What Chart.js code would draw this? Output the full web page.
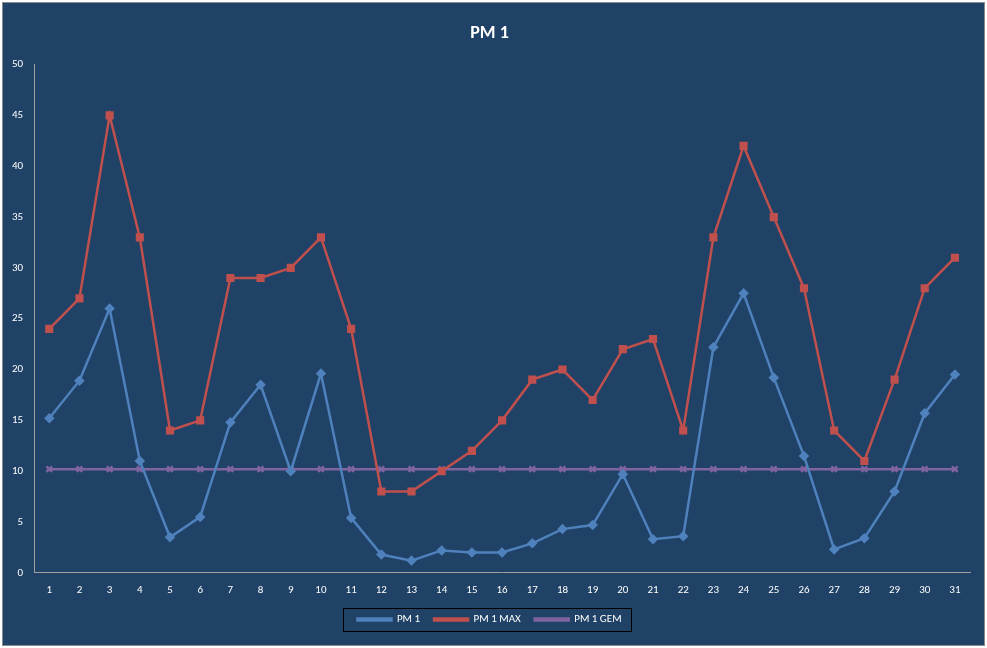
<!DOCTYPE html>
<html>
<head>
<meta charset="utf-8">
<script src="https://cdn.jsdelivr.net/npm/chart.js@4"></script>
<style>
  html, body { margin: 0; padding: 0; background: #ffffff; }
  #wrap { position: absolute; left: 2px; top: 2px; width: 981px; height: 642px; border: 1px solid #8a8a8a; background: #1f4266; }
</style>
</head>
<body>
<div id="wrap"><canvas id="chart"></canvas></div>
<script>
const days = ['1','2','3','4','5','6','7','8','9','10','11','12','13','14','15','16','17','18','19','20','21','22','23','24','25','26','27','28','29','30','31'];
const pm1 = [15.2, 18.9, 26, 11, 3.5, 5.5, 14.8, 18.5, 10, 19.6, 5.4, 1.8, 1.2, 2.2, 2, 2, 2.9, 4.3, 4.7, 9.7, 3.3, 3.6, 22.2, 27.5, 19.2, 11.5, 2.3, 3.4, 8, 15.7, 19.5];
const pm1Max = [24, 27, 45, 33, 14, 15, 29, 29, 30, 33, 24, 8, 8, 10, 12, 15, 19, 20, 17, 22, 23, 14, 33, 42, 35, 28, 14, 11, 19, 28, 31];
const pm1Gem = [10.2, 10.2, 10.2, 10.2, 10.2, 10.2, 10.2, 10.2, 10.2, 10.2, 10.2, 10.2, 10.2, 10.2, 10.2, 10.2, 10.2, 10.2, 10.2, 10.2, 10.2, 10.2, 10.2, 10.2, 10.2, 10.2, 10.2, 10.2, 10.2, 10.2, 10.2];

// draws the black box around the legend items only
const legendBox = {
    id: 'legendBox',
    afterDraw(chart) {
        const boxes = chart.legend.legendHitBoxes;
        if (!boxes || !boxes.length) return;
        const left = Math.min(...boxes.map(b => b.left)) - 14;
        const right = Math.max(...boxes.map(b => b.left + b.width)) + 10;
        const top = Math.min(...boxes.map(b => b.top)) - 6;
        const bottom = Math.max(...boxes.map(b => b.top + b.height)) + 6;
        const ctx = chart.ctx;
        ctx.save();
        ctx.strokeStyle = '#000000';
        ctx.lineWidth = 1;
        ctx.strokeRect(Math.round(left) + 0.5, Math.round(top) + 0.5, Math.round(right - left), Math.round(bottom - top));
        ctx.restore();
    }
};

const font = { family: 'Calibri, Carlito, "Liberation Sans", sans-serif', size: 11 };

new Chart(document.getElementById('chart'), {
    type: 'line',
    data: {
        labels: days,
        datasets: [{
            label: 'PM 1',
            data: pm1,
            borderColor: '#4f81bd',
            backgroundColor: '#4f81bd',
            borderWidth: 2.5,
            pointStyle: 'rectRot',
            pointRadius: 3.5,
            tension: 0
        }, {
            label: 'PM 1 MAX',
            data: pm1Max,
            borderColor: '#c0504d',
            backgroundColor: '#c0504d',
            borderWidth: 2.5,
            pointStyle: 'rect',
            pointRadius: 4,
            tension: 0
        }, {
            label: 'PM 1 GEM',
            data: pm1Gem,
            borderColor: '#8064a2',
            backgroundColor: '#8064a2',
            borderWidth: 2.5,
            pointStyle: 'crossRot',
            pointRadius: 4,
            tension: 0
        }]
    },
    options: {
        responsive: true,
        maintainAspectRatio: false,
        animation: false,
        layout: { padding: { left: 6, right: 14, top: 4, bottom: 10 } },
        plugins: {
            title: {
                display: true,
                text: 'PM 1',
                color: '#ffffff',
                font: { family: 'Calibri, Carlito, "Liberation Sans", sans-serif', size: 18, weight: 'bold' },
                padding: { top: 16, bottom: 20 }
            },
            legend: {
                position: 'bottom',
                labels: {
                    color: '#ffffff',
                    font: font,
                    boxWidth: 34,
                    boxHeight: 2,
                    usePointStyle: false,
                    padding: 14
                }
            },
            tooltip: { enabled: false }
        },
        scales: {
            x: {
                offset: true,
                grid: { display: false, drawTicks: true },
                border: { color: '#a0a0a0' },
                ticks: { color: '#ffffff', font: font, maxRotation: 0 }
            },
            y: {
                min: 0,
                max: 50,
                ticks: { stepSize: 5, color: '#ffffff', font: font },
                grid: { display: false },
                border: { color: '#a0a0a0' }
            }
        }
    },
    plugins: [legendBox]
});
</script>
</body>
</html>
